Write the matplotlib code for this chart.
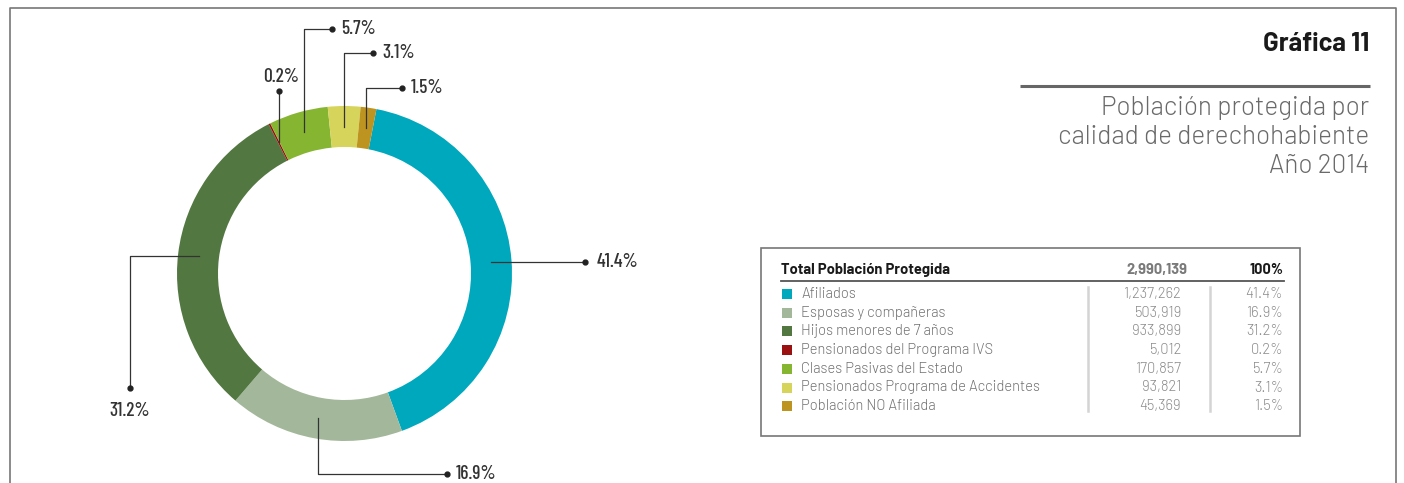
import matplotlib
matplotlib.use("Agg")
import matplotlib.pyplot as plt
from matplotlib.patches import Rectangle
import numpy as np

# --- data ---
categories = ["Afiliados", "Esposas y compañeras", "Hijos menores de 7 años",
              "Pensionados del Programa IVS", "Clases Pasivas del Estado",
              "Pensionados Programa de Accidentes", "Población NO Afiliada"]
counts = [1237262, 503919, 933899, 5012, 170857, 93821, 45369]
percents = [41.4, 16.9, 31.2, 0.2, 5.7, 3.1, 1.5]
total_count = 2990139
colors = ["#00A8BD", "#A3B79A", "#527741", "#9B1010", "#86B531", "#D6D45A", "#BE9420"]

title = "Gráfica 11"
subtitle = ["Población protegida por", "calidad de derechohabiente", "Año 2014"]

W, H = 1404, 483
fig = plt.figure(figsize=(W / 100, H / 100), dpi=100)
ax = fig.add_axes([0, 0, 1, 1])


def Y(py):
    # picture rows run downward, axes run upward
    return H - py


# --- donut ---
cx, cy = 344.5, Y(273.5)
R, ring = 167.5, 41
start = 79
wedges, _ = ax.pie(counts, colors=colors, startangle=start, counterclock=False,
                   center=(cx, cy), radius=R,
                   wedgeprops=dict(width=ring, linewidth=0))
ax.set_xlim(0, W)
ax.set_ylim(0, H)
ax.set_aspect("equal")
ax.axis("off")

# --- leader lines ---
rmid = R - ring / 2
lead_col = "#333333"
pct_font = dict(family="Barlow Condensed", fontweight=500, fontsize=14, color="#333333")

# kind, params (layout positions in picture pixels)
leaders = [
    ("h", dict(dot_x=585)),
    ("vh", dict(py=474, dot_x=447)),
    ("hv", dict(px=130, dot_py=388)),
    ("v", dict(dot_py=91)),
    ("vh", dict(py=29, dx=28)),
    ("vh", dict(py=53, dx=29)),
    ("vh", dict(py=88, dx=36)),
]

for w, pct, (kind, p) in zip(wedges, percents, leaders):
    mid = np.deg2rad((w.theta1 + w.theta2) / 2)
    sx = cx + rmid * np.cos(mid)
    sy = cy + rmid * np.sin(mid)
    lab = f"{pct}%"
    if kind == "h":
        ex, ey = p["dot_x"], sy
        ax.plot([sx, ex], [sy, ey], color=lead_col, lw=0.9)
        ax.text(ex + 12, ey, lab, ha="left", va="center", **pct_font)
    elif kind == "vh":
        ey = Y(p["py"])
        ex = p["dot_x"] if "dot_x" in p else sx + p["dx"]
        ax.plot([sx, sx, ex], [sy, ey, ey], color=lead_col, lw=0.9)
        ax.text(ex + 9, ey, lab, ha="left", va="center", **pct_font)
    elif kind == "hv":
        ex, ey = p["px"], Y(p["dot_py"])
        ax.plot([sx, ex, ex], [sy, sy, ey], color=lead_col, lw=0.9)
        ax.text(ex, ey - 23, lab, ha="center", va="center", **pct_font)
    else:
        ex, ey = sx, Y(p["dot_py"])
        ax.plot([sx, ex], [sy, ey], color=lead_col, lw=0.9)
        ax.text(ex + 3, ey + 14, lab, ha="center", va="center", **pct_font)
    ax.plot(ex, ey, "o", color="#222222", ms=3.5)

# --- outer frame (open at the bottom) ---
ax.plot([10, 10, 1396, 1396], [0, Y(8), Y(8), 0], color="#777777", lw=1.2)

# --- title block ---
ax.text(1369, Y(44), title, ha="right", va="center", family="Barlow",
        fontweight="bold", fontsize=18.5, color="#1a1a1a")
ax.plot([1020, 1370], [Y(86), Y(86)], color="#666666", lw=2.2, solid_capstyle="butt")
for i, line in enumerate(subtitle):
    ax.text(1369, Y(108 + 29 * i), line, ha="right", va="center", family="Barlow",
            fontweight=300, fontsize=18.8, color="#6a6a6a")

# --- table ---
ax.add_patch(Rectangle((761, Y(436)), 1300 - 761, 436 - 248, fill=False,
                       edgecolor="#777777", lw=1.2))
tfont = dict(family="Barlow", fontsize=10.6)
ax.text(781, Y(270), "Total Población Protegida", ha="left", va="center",
        fontweight="bold", color="#1a1a1a", **tfont)
ax.text(1187, Y(270), f"{total_count:,}", ha="right", va="center",
        fontweight="bold", color="#7a7a7a", **tfont)
ax.text(1283, Y(270), "100%", ha="right", va="center",
        fontweight="bold", color="#1a1a1a", **tfont)
ax.plot([781, 1284], [Y(281), Y(281)], color="#555555", lw=1.3)
for xs in (1088, 1210):
    ax.plot([xs, xs], [Y(287), Y(411)], color="#d4d4d4", lw=1.8)

row0, step = 294, 18.7
for i, (cat, n, pct, c) in enumerate(zip(categories, counts, percents, colors)):
    yy = Y(row0 + step * i)
    ax.add_patch(Rectangle((782, yy - 5), 10, 10, facecolor=c, edgecolor="none"))
    ax.text(801, yy, cat, ha="left", va="center", fontweight=300,
            color="#707070", **tfont)
    ax.text(1181, yy, f"{n:,}", ha="right", va="center", fontweight=300,
            color="#8a8a8a", **tfont)
    ax.text(1283, yy, f"{pct}%", ha="right", va="center", fontweight=300,
            color="#8a8a8a", **tfont)

fig.savefig("out.png", dpi=100)
